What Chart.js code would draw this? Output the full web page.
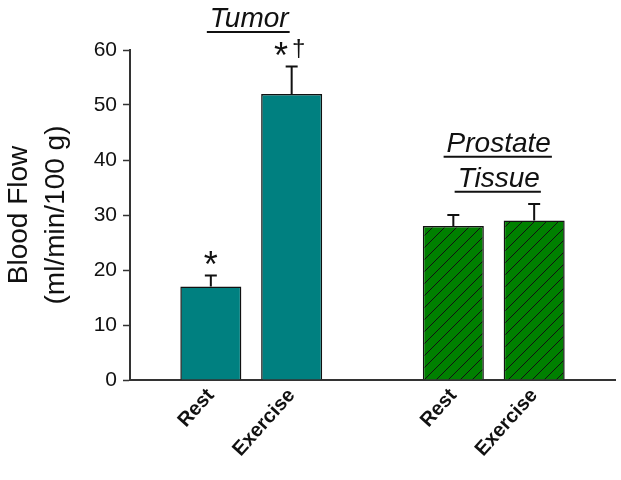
<!DOCTYPE html>
<html>
<head>
<meta charset="utf-8">
<script src="https://cdn.jsdelivr.net/npm/chart.js@4.4.1/dist/chart.umd.min.js"></script>
<style>
  html, body { margin: 0; padding: 0; background: #fff; }
  canvas { display: block; }
</style>
</head>
<body>
<canvas id="chart" width="621" height="480"></canvas>
<script>
// values
const conditions = ['Rest', 'Exercise'];
const tumorFlow = [17, 52];
const tumorSem = [2, 5];
const tumorMarks = ['*', '*†'];
const prostateFlow = [28, 29];
const prostateSem = [2, 3];
const yTicks = [0, 10, 20, 30, 40, 50, 60];

const FONT = 'Arial, "Liberation Sans", sans-serif';

// empty slots at both ends and between the groups
const labels = [''].concat(conditions, [''], conditions, ['']);
const tumorData = [null].concat(tumorFlow, [null, null, null, null]);
const prostateData = [null, null, null, null].concat(prostateFlow, [null]);
const semData = [null].concat(tumorSem, [null], prostateSem, [null]);
const markData = [null].concat(tumorMarks, [null, null, null, null]);

function hatch() {
  const c = document.createElement('canvas');
  c.width = 12; c.height = 12;
  const g = c.getContext('2d');
  g.fillStyle = '#008000';
  g.fillRect(0, 0, 12, 12);
  g.strokeStyle = '#111';
  g.lineWidth = 1;
  g.beginPath();
  g.moveTo(-1, 13); g.lineTo(13, -1);
  g.moveTo(-7, 7); g.lineTo(7, -7);
  g.moveTo(5, 19); g.lineTo(19, 5);
  g.stroke();
  return g.createPattern(c, 'repeat');
}

const extras = {
  id: 'extras',
  afterDatasetsDraw(chart) {
    const { ctx, scales: { x, y } } = chart;
    ctx.save();

    // error bars (upper only)
    ctx.strokeStyle = '#111';
    ctx.lineWidth = 2;
    labels.forEach((_, i) => {
      const v = tumorData[i] ?? prostateData[i];
      if (v == null) return;
      const px = x.getPixelForValue(i);
      const top = y.getPixelForValue(v);
      const cap = y.getPixelForValue(v + semData[i]);
      ctx.beginPath();
      ctx.moveTo(px, top);
      ctx.lineTo(px, cap);
      ctx.moveTo(px - 6, cap);
      ctx.lineTo(px + 6, cap);
      ctx.stroke();
    });

    // significance marks
    ctx.fillStyle = '#111';
    ctx.textBaseline = 'alphabetic';
    ctx.textAlign = 'left';
    markData.forEach((m, i) => {
      if (!m) return;
      const px = x.getPixelForValue(i);
      const cap = y.getPixelForValue(tumorData[i] + semData[i]);
      const star = '36px ' + FONT, dag = '24px ' + FONT;
      ctx.font = star;
      const ws = ctx.measureText('*').width;
      ctx.font = dag;
      const wd = m.includes('†') ? ctx.measureText('†').width + 4 : 0;
      let sx = px - (ws + wd) / 2 - (wd ? 2 : 0);
      ctx.font = star;
      ctx.fillText('*', sx, cap + 1);
      if (wd) {
        ctx.font = dag;
        ctx.fillText('†', sx + ws + 4, cap - 11);
      }
    });

    // group titles, italic and underlined
    function title(lines, cx, baseline) {
      ctx.font = 'italic 28px ' + FONT;
      ctx.textAlign = 'center';
      ctx.lineWidth = 2;
      lines.forEach((t, k) => {
        const b = baseline + k * 35;
        const w = ctx.measureText(t).width;
        ctx.fillText(t, cx + 2, b);
        ctx.beginPath();
        ctx.moveTo(cx - w / 2 - 1, b + 5);
        ctx.lineTo(cx + w / 2 + 3, b + 5);
        ctx.stroke();
      });
    }
    title(['Tumor'], (x.getPixelForValue(1) + x.getPixelForValue(2)) / 2 - 4, chart.chartArea.top - 23);
    title(['Prostate', 'Tissue'], (x.getPixelForValue(4) + x.getPixelForValue(5)) / 2 + 3, y.getPixelForValue(41.5));

    // y axis title
    const cy = (chart.chartArea.top + chart.chartArea.bottom) / 2;
    ctx.translate(0, cy);
    ctx.rotate(-Math.PI / 2);
    ctx.textAlign = 'center';
    ctx.textBaseline = 'middle';
    ctx.font = '28px ' + FONT;
    ctx.fillText('Blood Flow', 0, 19);
    ctx.font = '28px ' + FONT;
    ctx.fillText('(ml/min/100 g)', 0, 56);
    ctx.restore();
  }
};

new Chart(document.getElementById('chart').getContext('2d'), {
  type: 'bar',
  data: {
    labels: labels,
    datasets: [
      {
        label: 'Tumor',
        data: tumorData,
        backgroundColor: '#008080',
        borderColor: '#111',
        borderWidth: 1.5,
        grouped: false,
        barPercentage: 0.755,
        categoryPercentage: 1
      },
      {
        label: 'Prostate Tissue',
        data: prostateData,
        backgroundColor: hatch(),
        borderColor: '#111',
        borderWidth: 1.5,
        grouped: false,
        barPercentage: 0.755,
        categoryPercentage: 1
      }
    ]
  },
  options: {
    responsive: false,
    animation: false,
    devicePixelRatio: 1,
    layout: { padding: { left: 0, right: 6, top: 50, bottom: 0 } },
    plugins: {
      legend: { display: false },
      tooltip: { enabled: false }
    },
    scales: {
      x: {
        offset: false,
        grid: { drawOnChartArea: false, drawTicks: false },
        border: { color: '#333', width: 2 },
        ticks: {
          autoSkip: false,
          minRotation: 48,
          maxRotation: 48,
          padding: 4,
          color: '#111',
          font: { family: FONT, size: 20, weight: 'bold' }
        },
        afterFit(s) { s.height = 100; s.paddingLeft = 0; s.paddingRight = 0; }
      },
      y: {
        min: 0,
        max: 60,
        afterBuildTicks(s) { s.ticks = yTicks.map(v => ({ value: v })); },
        grid: { drawOnChartArea: false, tickLength: 7, tickColor: '#333', tickWidth: 1.5 },
        border: { color: '#333', width: 2 },
        ticks: {
          padding: 6,
          color: '#111',
          font: { family: FONT, size: 21 }
        },
        afterFit(s) { s.width = 130; s.paddingTop = 0; s.paddingBottom = 0; }
      }
    }
  },
  plugins: [extras]
});
</script>
</body>
</html>
